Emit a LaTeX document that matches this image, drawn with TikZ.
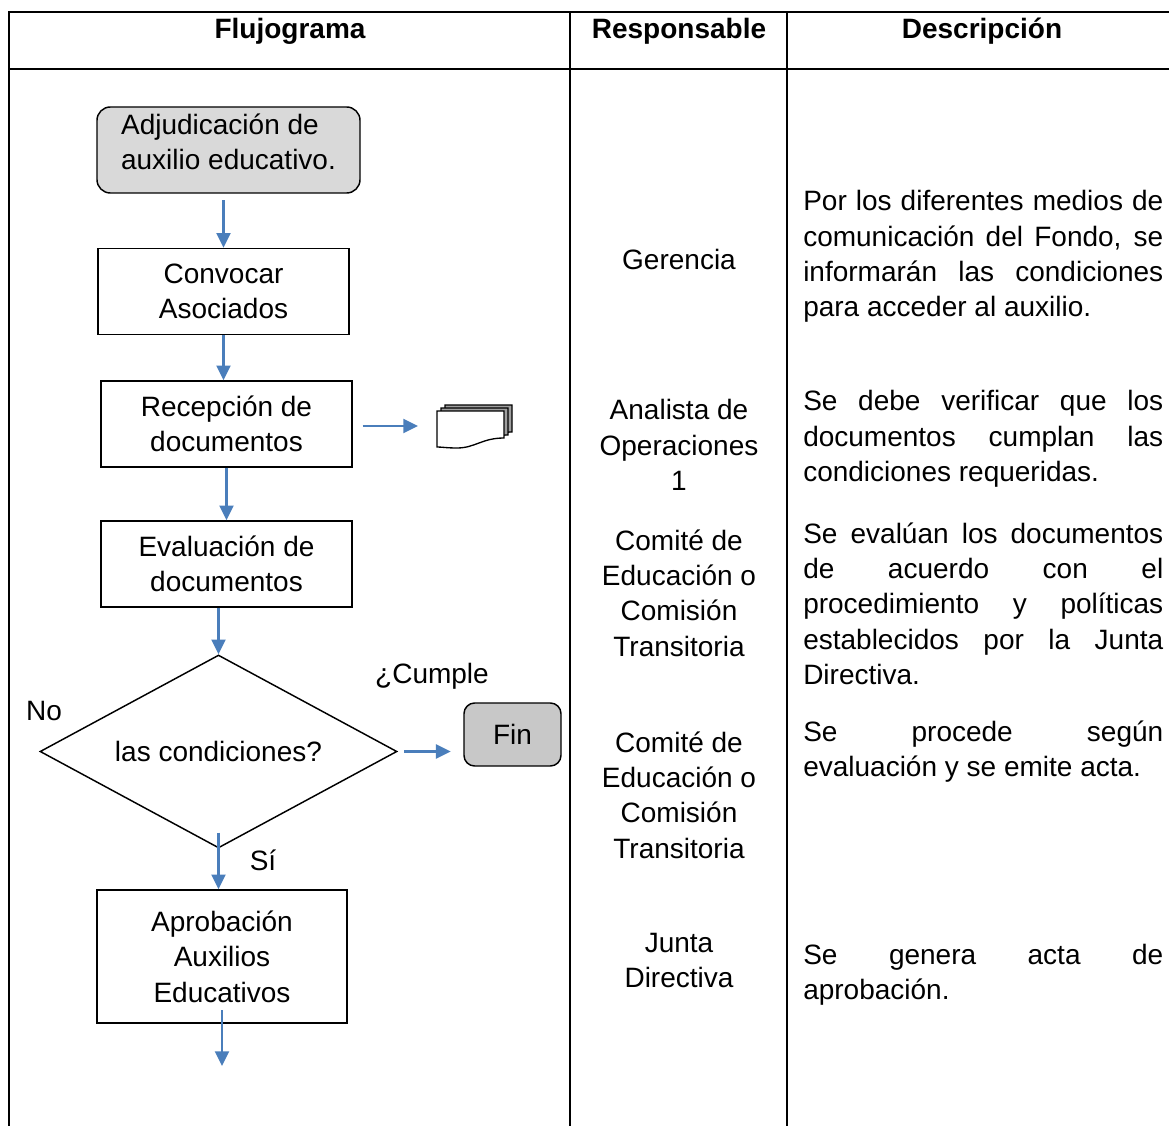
\documentclass[tikz,border=0pt]{standalone}
\usepackage{fontspec}
\setmainfont{Liberation Sans}
\usetikzlibrary{positioning,shapes.geometric,arrows.meta}
\definecolor{azul}{HTML}{4A7EBB}
\definecolor{grisini}{HTML}{D9D9D9}
\definecolor{grisfin}{HTML}{C8C8C8}

\begin{document}
\begin{tikzpicture}[x=0.75pt,y=0.75pt,yscale=-1,xscale=1,
    texto/.style={font=\fontsize{21}{26.5}\selectfont, inner sep=0.75pt, align=center},
    titulo/.style={texto, font=\fontsize{21}{26.5}\selectfont\bfseries},
    descr/.style={texto, inner sep=0pt, anchor=west, text width=270pt, align=justify},
    proceso/.style={texto, draw, line width=1.1pt, minimum width=188.25pt, minimum height=64.5pt},
    inicio/.style={texto, draw, line width=1.1pt, rounded corners=10pt, fill=grisini, align=left, minimum width=197.25pt, minimum height=64.5pt, text depth=12pt},
    terminal/.style={texto, draw, line width=1.1pt, rounded corners=8pt, fill=grisfin, minimum width=72.75pt, minimum height=47.25pt},
    decision/.style={texto, draw, diamond, aspect=1.85, line width=1.1pt, inner sep=0pt, minimum width=267.75pt, minimum height=144.75pt},
    flecha/.style={draw=azul, line width=1.6pt, -{Triangle[length=11pt,width=10.5pt]}}
  ]
        \useasboundingbox (0,0) rectangle (1169,1126);

        % tabla
        \draw [line width=1.2pt] (9,1126) -- (9,12) -- (1169,12) ;
        \draw [line width=1.2pt] (9,69) -- (1169,69) ;
        \draw [line width=1.2pt] (570,12) -- (570,1126) ;
        \draw [line width=1.2pt] (787,12) -- (787,1126) ;

        \node [titulo] (tflujo) at (290,31) {Flujograma};
        \node [titulo] (tresp) at (679,31) {Responsable};
        \node [titulo] (tdesc) at (982,31) {Descripción};

        % flujograma
        \node [inicio] (adjud) at (228.5,150) {Adjudicación de\\auxilio educativo.};
        \node [proceso] (convocar) at (223.5,291.5) {Convocar\\Asociados};
        \node [proceso] (recepcion) at (226.5,424) {Recepción de\\documentos};
        \node [proceso] (evaluacion) at (226.5,564) {Evaluación de\\documentos};
        \node [decision] (cumple) at (218.5,751.5) {las condiciones?};
        \node [terminal] (fin) at (512.5,734.5) {Fin};
        \node [proceso, minimum width=187.5pt, minimum height=99.75pt] (aprobacion) at (222,956.5) {Aprobación\\Auxilios\\Educativos};
        \coordinate (docs) at (418,426);
        \coordinate (salida) at (222,1066);

        \node [texto] (pregunta) at (432,676) {¿Cumple};
        \node [texto] (no) at (44,711) {No};
        \node [texto] (si) at (263,860) {Sí};

        % pila de documentos
        \foreach \dx/\dy/\col in {8/-6/gray!75, 4/-3/gray!75, 0/0/white}
            \draw [line width=1pt, fill=\col, shift={(437+\dx,411+\dy)}] (0,0) -- (67,0) -- (67,27) .. controls (45,27) and (38,37) .. (20,37) .. controls (10,37) and (5,36) .. (0,36) -- cycle ;

        \draw [flecha, shorten <=5pt] (adjud.south -| convocar.north) -- (convocar.north) ;
        \draw [flecha] (convocar.south) -- (convocar.south |- recepcion.north) ;
        \draw [flecha] (recepcion.south) -- (recepcion.south |- evaluacion.north) ;
        \draw [flecha, shorten <=7.5pt] (recepcion.east |- docs) -- (docs) ;
        \draw [flecha] (evaluacion.south -| cumple.north) -- (cumple.north) ;
        \draw [flecha, shorten <=5pt, shorten >=9.5pt] (cumple.east) -- (cumple.east -| fin.west) ;
        \draw [flecha, shorten <=-12pt] (cumple.south) -- (cumple.south |- aprobacion.north) ;
        \draw [flecha, shorten <=-10pt] (aprobacion.south) -- (salida) ;

        % responsables
        \node [texto] (resp1) at (679,259) {Gerencia};
        \node [texto] (resp2) at (679,445) {Analista de\\Operaciones\\1};
        \node [texto] (resp3) at (679,593) {Comité de\\Educación o\\Comisión\\Transitoria};
        \node [texto] (resp4) at (679,795) {Comité de\\Educación o\\Comisión\\Transitoria};
        \node [texto] (resp5) at (679,960.5) {Junta\\Directiva};

        % descripciones
        \node [descr] (desc1) at (803,256.5) {Por los diferentes medios de\linebreak comunicación del Fondo, se\linebreak informarán las condiciones\linebreak para acceder al auxilio.};
        \node [descr] (desc2) at (803,439) {Se debe verificar que los\linebreak documentos cumplan las\linebreak condiciones requeridas.};
        \node [descr] (desc3) at (803,603.5) {Se evalúan los documentos\linebreak de acuerdo con el\linebreak procedimiento y políticas\linebreak establecidos por la Junta\linebreak Directiva.};
        \node [descr] (desc4) at (803,751.5) {Se procede según\linebreak evaluación y se emite acta.};
        \node [descr] (desc5) at (803,974.5) {Se genera acta de\linebreak aprobación.};
\end{tikzpicture}
\end{document}
